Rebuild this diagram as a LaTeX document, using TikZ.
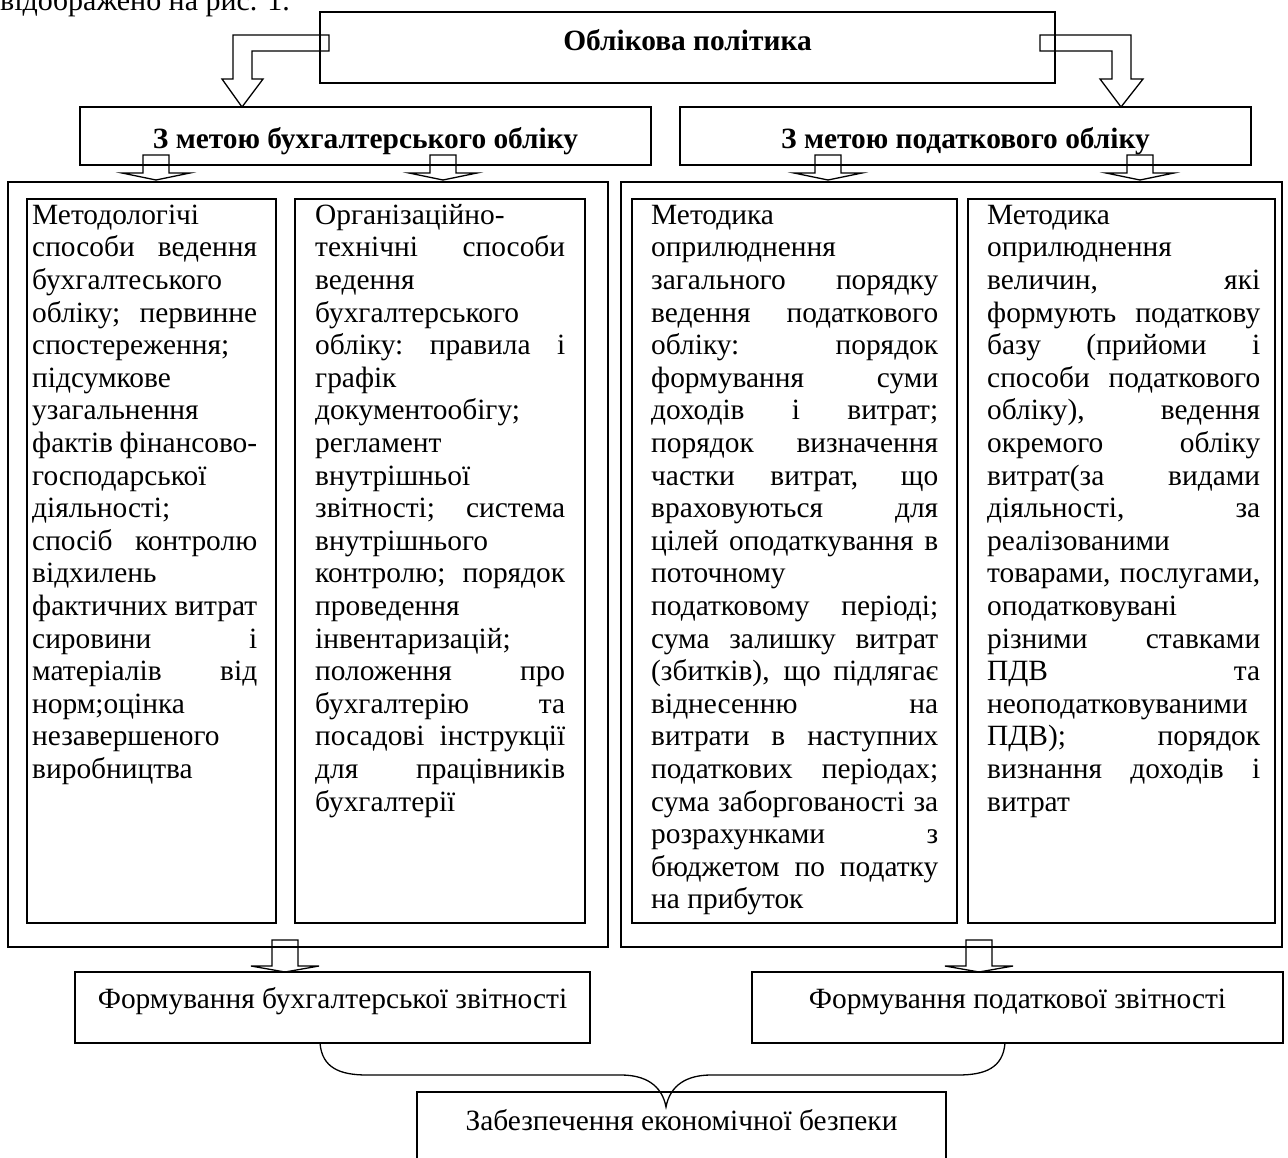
\documentclass[tikz,border=0pt]{standalone}
\usepackage{fontspec}
\setmainfont{Liberation Serif}
\usetikzlibrary{positioning}

\newlength{\colw}
\newcommand{\boxfont}{\fontsize{29.4}{32.6}\selectfont}
\newcommand{\wsp}{\spaceskip=0.25em plus 8em minus 0.1em\relax\xspaceskip=\spaceskip}
% one justified line, one left line, last line
\newcommand{\jline}[1]{\makebox[\colw][s]{\wsp\strut #1}\\}
\newcommand{\lline}[1]{\makebox[\colw][l]{\wsp\strut #1}\\}
\newcommand{\eline}[1]{\makebox[\colw][l]{\wsp\strut #1}}
% hollow down arrow: centre x, shaft top, head top, tip
\newcommand{\hollowdown}[4]{%
  \draw[blockarrow] (#1-13,#2) -- (#1-13,#3) -- (#1-34,#3) -- (#1,#4)
    -- (#1+34,#3) -- (#1+13,#3) -- (#1+13,#2) -- cycle;}

\begin{document}
\begin{tikzpicture}[x=1pt, y=-1pt,
        every node/.style={font=\boxfont},
        box/.style={draw, line width=1.3pt, inner sep=0pt},
        head/.style={font=\boxfont\bfseries, inner sep=0pt, anchor=base},
        plain/.style={inner sep=0pt, anchor=base},
        coltext/.style={anchor=north west, inner sep=0pt, align=left, text width=#1},
        blockarrow/.style={draw, line width=1.3pt, line join=miter}
    ]
    \path[use as bounding box, fill=white] (0,0) rectangle (1288,1157);
%
    % text above the figure
    \node[anchor=base west, inner sep=0pt, font=\fontsize{30}{34}\selectfont] (caption) at (0,10) {відображено на рис. 1.};
%
    % Top level
    \node[box, minimum width=735pt, minimum height=71pt] (polit) at (687.5,47.5) {};
    \node[head] (politt) at (687.5,50) {Облікова політика};
%
    \node[box, minimum width=571pt, minimum height=58pt] (buh) at (365.5,136) {};
    \node[head] (buht) at (365.5,148) {З метою бухгалтерського обліку};
    \node[box, minimum width=571pt, minimum height=58pt] (pod) at (965.5,136) {};
    \node[head] (podt) at (965.5,148) {З метою податкового обліку};
%
    \draw[blockarrow] (329,35) -- (233,35) -- (233,79) -- (222,79) -- (242,107)
        -- (263,79) -- (252,79) -- (252,51) -- (329,51) -- cycle;
    \draw[blockarrow] (1040,35) -- (1131,35) -- (1131,79) -- (1143,79) -- (1121,107)
        -- (1100,79) -- (1112,79) -- (1112,51) -- (1040,51) -- cycle;
%
    % Frames and columns
    \node[box, minimum width=600pt, minimum height=765pt] (lframe) at (308,564.5) {};
    \node[box, minimum width=661pt, minimum height=765pt] (rframe) at (951.5,564.5) {};
    \node[box, minimum width=249pt, minimum height=724pt] (col1) at (151.5,561) {};
    \node[box, minimum width=290pt, minimum height=724pt] (col2) at (440,561) {};
    \node[box, minimum width=325pt, minimum height=724pt] (col3) at (794.5,561) {};
    \node[box, minimum width=307pt, minimum height=724pt] (col4) at (1121.5,561) {};
%
    \hollowdown{156}{155}{173}{180}
    \hollowdown{443}{155}{173}{180}
    \hollowdown{828}{155}{173}{180}
    \hollowdown{1140}{155}{173}{180}
%
    \node[coltext=225pt] (col1t) at (32,201.2) {\setlength{\colw}{225pt}%
        \lline{Методологічі}
        \jline{способи ведення}
        \lline{бухгалтеського}
        \jline{обліку; первинне}
        \lline{спостереження;}
        \lline{підсумкове}
        \lline{узагальнення}
        \jline{фактів фінансово-}
        \lline{господарської}
        \lline{діяльності;}
        \jline{спосіб контролю}
        \lline{відхилень}
        \jline{фактичних витрат}
        \jline{сировини і}
        \jline{матеріалів від}
        \lline{норм;оцінка}
        \lline{незавершеного}
        \eline{виробництва}};
    \node[coltext=250pt] (col2t) at (315,201.2) {\setlength{\colw}{250pt}%
        \lline{Організаційно-}
        \jline{технічні способи}
        \lline{ведення}
        \lline{бухгалтерського}
        \jline{обліку: правила і}
        \lline{графік}
        \lline{документообігу;}
        \lline{регламент}
        \lline{внутрішньої}
        \jline{звітності; система}
        \lline{внутрішнього}
        \jline{контролю; порядок}
        \lline{проведення}
        \lline{інвентаризацій;}
        \jline{положення про}
        \jline{бухгалтерію та}
        \jline{посадові інструкції}
        \jline{для працівників}
        \eline{бухгалтерії}};
    \node[coltext=287pt] (col3t) at (651,201.2) {\setlength{\colw}{287pt}%
        \lline{Методика}
        \lline{оприлюднення}
        \jline{загального порядку}
        \jline{ведення податкового}
        \jline{обліку: порядок}
        \jline{формування суми}
        \jline{доходів і витрат;}
        \jline{порядок визначення}
        \jline{частки витрат, що}
        \jline{враховуються для}
        \jline{цілей оподаткування в}
        \lline{поточному}
        \jline{податковому періоді;}
        \jline{сума залишку витрат}
        \jline{(збитків), що підлягає}
        \jline{віднесенню на}
        \jline{витрати в наступних}
        \jline{податкових періодах;}
        \jline{сума заборгованості за}
        \jline{розрахунками з}
        \jline{бюджетом по податку}
        \eline{на прибуток}};
    \node[coltext=273pt] (col4t) at (987,201.2) {\setlength{\colw}{273pt}%
        \lline{Методика}
        \lline{оприлюднення}
        \jline{величин, які}
        \jline{формують податкову}
        \jline{базу (прийоми і}
        \jline{способи податкового}
        \jline{обліку), ведення}
        \jline{окремого обліку}
        \jline{витрат(за видами}
        \jline{діяльності, за}
        \lline{реалізованими}
        \jline{товарами, послугами,}
        \lline{оподатковувані}
        \jline{різними ставками}
        \jline{ПДВ та}
        \lline{неоподатковуваними}
        \jline{ПДВ); порядок}
        \jline{визнання доходів і}
        \eline{витрат}};
%
    % Reports
    \hollowdown{285}{940}{966}{972}
    \hollowdown{979}{940}{966}{972}
    \node[box, minimum width=515pt, minimum height=71pt] (lform) at (332.5,1007.5) {};
    \node[plain] (lformt) at (332.5,1008) {Формування бухгалтерської звітності};
    \node[box, minimum width=531pt, minimum height=71pt] (rform) at (1017.5,1007.5) {};
    \node[plain] (rformt) at (1017.5,1008) {Формування податкової звітності};
%
    % Brace and result
    \coordinate (bracel) at (320,1043);
    \coordinate (bracer) at (1005,1043);
    \coordinate (bracetip) at (666,1107);
    \draw[line width=1.3pt] (bracel) .. controls (322,1068) and (340,1075) .. (367,1075)
        -- (621,1075) .. controls (645,1075) and (662,1085) .. (bracetip)
        .. controls (670,1085) and (687,1075) .. (711,1075)
        -- (958,1075) .. controls (985,1075) and (1003,1068) .. (bracer);
    \node[box, minimum width=529pt, minimum height=73pt] (safe) at (681.5,1128.5) {};
    \node[plain] (safet) at (681.5,1130) {Забезпечення економічної безпеки};
\end{tikzpicture}
\end{document}
